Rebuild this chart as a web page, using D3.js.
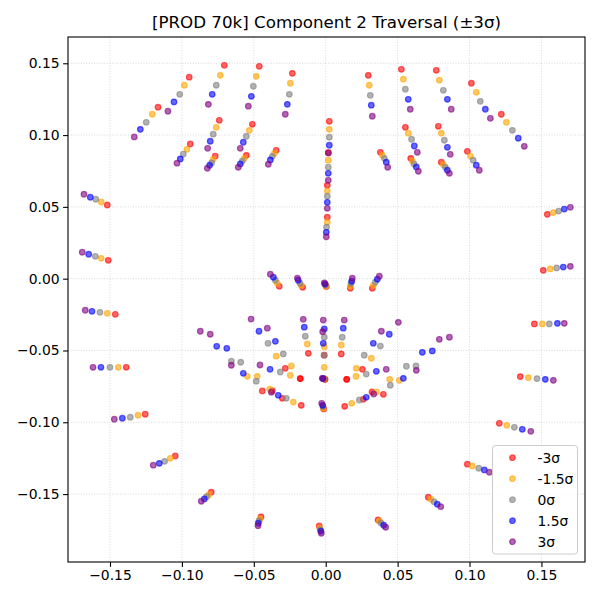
<!DOCTYPE html>
<html>
<head>
<meta charset="utf-8">
<script src="https://cdn.jsdelivr.net/npm/d3@7"></script>
<style>
  body { margin: 0; background: #fff; }
  text { font-family: "DejaVu Sans", sans-serif; }
</style>
</head>
<body>
<div id="chart"></div>
<script>
// 68 landmark points per traversal step (jaw, brows, nose, eyes, mouth)
const sigmaLabels = ["-3σ", "-1.5σ", "0σ", "1.5σ", "3σ"];
const sigmaColors = ["red", "orange", "gray", "blue", "purple"];

const xNeg3 = [
  -0.1519, -0.1512, -0.1463, -0.1387, -0.1255, -0.1046, -0.0796, -0.0450, -0.0045, 0.0364, 0.0713, 0.0985, 0.1207, 0.1353, 0.1451, 0.1513, 0.1541,
  -0.1166, -0.0949, -0.0705, -0.0462, -0.0232, 0.0296, 0.0526, 0.0769, 0.1013, 0.1221,
  0.0025, 0.0018, 0.0011, 0.0011, -0.0323, -0.0160, 0.0004, 0.0171, 0.0324,
  -0.0942, -0.0740, -0.0510, -0.0344, -0.0552, -0.0768, 0.0380, 0.0554, 0.0783, 0.0985, 0.0804, 0.0591,
  -0.0441, -0.0281, -0.0121, -0.0010, 0.0108, 0.0255, 0.0401, 0.0261, 0.0132, -0.0014, -0.0170, -0.0302,
  -0.0371, -0.0177, -0.0005, 0.0146, 0.0322, 0.0146, -0.0005, -0.0177
];
const yNeg3 = [
  0.0513, 0.0128, -0.0248, -0.0617, -0.0944, -0.1235, -0.1487, -0.1659, -0.1722, -0.1680, -0.1522, -0.1292, -0.1007, -0.0682, -0.0315, 0.0058, 0.0448,
  0.1194, 0.1403, 0.1486, 0.1479, 0.1430, 0.1416, 0.1458, 0.1451, 0.1361, 0.1145,
  0.1096, 0.0879, 0.0650, 0.0428, -0.0053, -0.0060, -0.0054, -0.0067, -0.0067,
  0.0938, 0.1103, 0.1075, 0.0894, 0.0859, 0.0854, 0.0880, 0.1054, 0.1061, 0.0887, 0.0811, 0.0838,
  -0.0782, -0.0624, -0.0520, -0.0533, -0.0524, -0.0631, -0.0805, -0.0840, -0.0889, -0.0907, -0.0882, -0.0833,
  -0.0780, -0.0696, -0.0701, -0.0701, -0.0789, -0.0701, -0.0701, -0.0696
];

const xNeg15 = [
  -0.1561, -0.1561, -0.1519, -0.1442, -0.1305, -0.1081, -0.0812, -0.0457, -0.0040, 0.0373, 0.0732, 0.1019, 0.1259, 0.1409, 0.1506, 0.1562, 0.1583,
  -0.1206, -0.0983, -0.0733, -0.0483, -0.0246, 0.0303, 0.0540, 0.0790, 0.1047, 0.1256,
  0.0025, 0.0018, 0.0011, 0.0011, -0.0337, -0.0170, 0.0002, 0.0171, 0.0331,
  -0.0965, -0.0761, -0.0531, -0.0357, -0.0566, -0.0782, 0.0394, 0.0574, 0.0804, 0.1006, 0.0818, 0.0602,
  -0.0545, -0.0344, -0.0128, -0.0010, 0.0108, 0.0317, 0.0512, 0.0352, 0.0181, -0.0017, -0.0225, -0.0389,
  -0.0476, -0.0239, -0.0010, 0.0213, 0.0445, 0.0211, -0.0010, -0.0246
];
const yNeg15 = [
  0.0534, 0.0142, -0.0241, -0.0617, -0.0951, -0.1251, -0.1504, -0.1673, -0.1738, -0.1689, -0.1536, -0.1304, -0.1021, -0.0689, -0.0315, 0.0068, 0.0460,
  0.1145, 0.1347, 0.1416, 0.1409, 0.1361, 0.1347, 0.1389, 0.1382, 0.1298, 0.1089,
  0.1040, 0.0825, 0.0611, 0.0393, -0.0032, -0.0046, -0.0051, -0.0053, -0.0046,
  0.0901, 0.1054, 0.1033, 0.0873, 0.0838, 0.0831, 0.0859, 0.1013, 0.1013, 0.0854, 0.0794, 0.0820,
  -0.0680, -0.0540, -0.0455, -0.0474, -0.0462, -0.0554, -0.0708, -0.0789, -0.0868, -0.0903, -0.0859, -0.0770,
  -0.0680, -0.0608, -0.0617, -0.0624, -0.0701, -0.0680, -0.0698, -0.0673
];

const xZero = [
  -0.1599, -0.1602, -0.1570, -0.1500, -0.1359, -0.1120, -0.0828, -0.0464, -0.0038, 0.0385, 0.0753, 0.1064, 0.1312, 0.1469, 0.1555, 0.1606, 0.1620,
  -0.1248, -0.1015, -0.0761, -0.0503, -0.0253, 0.0310, 0.0554, 0.0818, 0.1075, 0.1298,
  0.0025, 0.0018, 0.0011, 0.0006, -0.0350, -0.0179, -0.0001, 0.0176, 0.0345,
  -0.0990, -0.0782, -0.0552, -0.0371, -0.0580, -0.0793, 0.0408, 0.0597, 0.0825, 0.1026, 0.0832, 0.0614,
  -0.0656, -0.0401, -0.0142, -0.0010, 0.0115, 0.0380, 0.0628, 0.0449, 0.0234, -0.0019, -0.0274, -0.0483,
  -0.0591, -0.0295, -0.0012, 0.0268, 0.0561, 0.0282, -0.0015, -0.0316
];
const yZero = [
  0.0553, 0.0156, -0.0234, -0.0617, -0.0965, -0.1272, -0.1518, -0.1687, -0.1750, -0.1701, -0.1553, -0.1320, -0.1035, -0.0696, -0.0315, 0.0075, 0.0471,
  0.1089, 0.1284, 0.1347, 0.1340, 0.1284, 0.1277, 0.1319, 0.1312, 0.1235, 0.1033,
  0.0985, 0.0776, 0.0574, 0.0359, -0.0011, -0.0032, -0.0044, -0.0032, -0.0025,
  0.0868, 0.1006, 0.0992, 0.0852, 0.0820, 0.0808, 0.0838, 0.0971, 0.0964, 0.0825, 0.0776, 0.0799,
  -0.0575, -0.0450, -0.0401, -0.0408, -0.0408, -0.0469, -0.0608, -0.0742, -0.0845, -0.0890, -0.0833, -0.0714,
  -0.0582, -0.0524, -0.0533, -0.0533, -0.0610, -0.0664, -0.0697, -0.0650
];

const xPos15 = [
  -0.1637, -0.1648, -0.1625, -0.1563, -0.1414, -0.1157, -0.0844, -0.0469, -0.0033, 0.0403, 0.0776, 0.1103, 0.1367, 0.1527, 0.1611, 0.1652, 0.1659,
  -0.1289, -0.1055, -0.0789, -0.0517, -0.0267, 0.0317, 0.0574, 0.0846, 0.1110, 0.1339,
  0.0025, 0.0018, 0.0011, 0.0004, -0.0364, -0.0191, -0.0005, 0.0181, 0.0359,
  -0.1011, -0.0803, -0.0573, -0.0385, -0.0594, -0.0807, 0.0421, 0.0616, 0.0846, 0.1047, 0.0846, 0.0630,
  -0.0758, -0.0464, -0.0149, -0.0010, 0.0122, 0.0442, 0.0741, 0.0540, 0.0282, -0.0021, -0.0330, -0.0573,
  -0.0688, -0.0350, -0.0017, 0.0331, 0.0672, 0.0352, -0.0019, -0.0387
];
const yPos15 = [
  0.0567, 0.0170, -0.0227, -0.0617, -0.0972, -0.1286, -0.1534, -0.1703, -0.1759, -0.1717, -0.1571, -0.1332, -0.1049, -0.0701, -0.0311, 0.0081, 0.0485,
  0.1040, 0.1231, 0.1284, 0.1270, 0.1214, 0.1208, 0.1249, 0.1249, 0.1180, 0.0978,
  0.0929, 0.0734, 0.0532, 0.0323, 0.0010, -0.0011, -0.0037, -0.0018, -0.0004,
  0.0834, 0.0957, 0.0950, 0.0827, 0.0799, 0.0790, 0.0811, 0.0924, 0.0915, 0.0790, 0.0755, 0.0778,
  -0.0471, -0.0366, -0.0338, -0.0350, -0.0345, -0.0387, -0.0503, -0.0694, -0.0826, -0.0882, -0.0812, -0.0659,
  -0.0485, -0.0436, -0.0450, -0.0450, -0.0513, -0.0645, -0.0695, -0.0631
];

const xPos3 = [
  -0.1681, -0.1693, -0.1672, -0.1618, -0.1470, -0.1199, -0.0865, -0.0471, -0.0031, 0.0417, 0.0800, 0.1138, 0.1426, 0.1583, 0.1659, 0.1701, 0.1701,
  -0.1331, -0.1097, -0.0816, -0.0538, -0.0281, 0.0324, 0.0588, 0.0873, 0.1145, 0.1381,
  0.0019, 0.0018, 0.0011, 0.0004, -0.0385, -0.0197, -0.0010, 0.0185, 0.0373,
  -0.1034, -0.0821, -0.0594, -0.0399, -0.0608, -0.0823, 0.0431, 0.0637, 0.0866, 0.1068, 0.0860, 0.0644,
  -0.0872, -0.0519, -0.0156, -0.0017, 0.0129, 0.0505, 0.0860, 0.0630, 0.0334, -0.0028, -0.0378, -0.0656,
  -0.0803, -0.0406, -0.0021, 0.0387, 0.0790, 0.0421, -0.0024, -0.0457
];
const yPos3 = [
  0.0588, 0.0184, -0.0220, -0.0617, -0.0979, -0.1299, -0.1550, -0.1720, -0.1773, -0.1731, -0.1588, -0.1348, -0.1063, -0.0708, -0.0311, 0.0086, 0.0497,
  0.0987, 0.1166, 0.1214, 0.1201, 0.1145, 0.1131, 0.1180, 0.1180, 0.1117, 0.0922,
  0.0875, 0.0685, 0.0490, 0.0292, 0.0031, 0.0003, -0.0030, 0.0003, 0.0017,
  0.0804, 0.0908, 0.0908, 0.0797, 0.0776, 0.0769, 0.0776, 0.0880, 0.0866, 0.0755, 0.0734, 0.0748,
  -0.0366, -0.0281, -0.0283, -0.0288, -0.0288, -0.0304, -0.0408, -0.0638, -0.0803, -0.0868, -0.0791, -0.0603,
  -0.0387, -0.0345, -0.0369, -0.0366, -0.0422, -0.0631, -0.0694, -0.0601
];

const xTicks = [-0.15, -0.10, -0.05, 0.00, 0.05, 0.10, 0.15];
const yTicks = [-0.15, -0.10, -0.05, 0.00, 0.05, 0.10, 0.15];

const seriesX = [xNeg3, xNeg15, xZero, xPos15, xPos3];
const seriesY = [yNeg3, yNeg15, yZero, yPos15, yPos3];

// figure layout (matplotlib-like 600x600)
const W = 600, H = 600;
const plot = { left: 68, right: 585, top: 37, bottom: 562 };

const svg = d3.select("#chart").append("svg")
  .attr("width", W)
  .attr("height", H);

const x = d3.scaleLinear().domain([-0.1792, 0.1803]).range([plot.left, plot.right]);
const y = d3.scaleLinear().domain([-0.1973, 0.1683]).range([plot.bottom, plot.top]);

const fmt = d => d3.format(".2f")(d).replace("-", "\u2212");

// grid
const grid = svg.append("g").attr("class", "grid");
grid.selectAll("line.gx")
  .data(xTicks)
  .join("line")
  .attr("class", "gx")
  .attr("x1", d => x(d)).attr("x2", d => x(d))
  .attr("y1", plot.top).attr("y2", plot.bottom);
grid.selectAll("line.gy")
  .data(yTicks)
  .join("line")
  .attr("class", "gy")
  .attr("x1", plot.left).attr("x2", plot.right)
  .attr("y1", d => y(d)).attr("y2", d => y(d));
grid.selectAll("line")
  .attr("stroke", "#b0b0b0")
  .attr("stroke-opacity", 0.6)
  .attr("stroke-width", 0.8)
  .attr("stroke-dasharray", "1,1.6");

// points, one group per sigma step
const series = sigmaLabels.map((lab, i) =>
  seriesX[i].map((v, j) => ({ x: v, y: seriesY[i][j] })));

svg.append("g")
  .selectAll("g")
  .data(series)
  .join("g")
  .attr("fill", (d, i) => sigmaColors[i])
  .attr("stroke", (d, i) => sigmaColors[i])
  .selectAll("circle")
  .data(d => d)
  .join("circle")
  .attr("cx", d => x(d.x))
  .attr("cy", d => y(d.y))
  .attr("r", 2.8)
  .attr("fill-opacity", 0.6)
  .attr("stroke-opacity", 0.6)
  .attr("stroke-width", 1.2);

// axes
const xAxis = svg.append("g")
  .attr("transform", `translate(0,${plot.bottom})`)
  .call(d3.axisBottom(x).tickValues(xTicks).tickFormat(fmt).tickSize(4.9).tickPadding(3.5).tickSizeOuter(0));
const yAxis = svg.append("g")
  .attr("transform", `translate(${plot.left},0)`)
  .call(d3.axisLeft(y).tickValues(yTicks).tickFormat(fmt).tickSize(4.9).tickPadding(3.5).tickSizeOuter(0));

[xAxis, yAxis].forEach(a => {
  a.select(".domain").remove();
  a.selectAll(".tick line").attr("stroke", "#000").attr("stroke-width", 1.1);
  a.selectAll(".tick text")
    .attr("fill", "#000")
    .style("font-size", "13.9px")
    .style("font-family", "'DejaVu Sans', sans-serif");
});

// frame
svg.append("rect")
  .attr("x", plot.left).attr("y", plot.top)
  .attr("width", plot.right - plot.left)
  .attr("height", plot.bottom - plot.top)
  .attr("fill", "none")
  .attr("stroke", "#000")
  .attr("stroke-width", 1.1);

// title
svg.append("text")
  .attr("x", (plot.left + plot.right) / 2)
  .attr("y", 28)
  .attr("text-anchor", "middle")
  .style("font-size", "16.7px")
  .text("[PROD 70k] Component 2 Traversal (\u00b13\u03c3)");

// legend
const legend = svg.append("g").attr("transform", "translate(492.5,445.5)");
legend.append("rect")
  .attr("width", 85).attr("height", 108.5)
  .attr("rx", 3)
  .attr("fill", "#fff").attr("fill-opacity", 0.8)
  .attr("stroke", "#cccccc").attr("stroke-width", 1);

const rows = legend.selectAll("g.row")
  .data(sigmaLabels)
  .join("g")
  .attr("class", "row")
  .attr("transform", (d, i) => `translate(0,${12.2 + i * 21})`);
rows.append("circle")
  .attr("cx", 20).attr("r", 2.8)
  .attr("fill", (d, i) => sigmaColors[i])
  .attr("stroke", (d, i) => sigmaColors[i])
  .attr("fill-opacity", 0.6).attr("stroke-opacity", 0.6)
  .attr("stroke-width", 1.2);
rows.append("text")
  .attr("x", 45).attr("dy", "0.36em")
  .style("font-size", "13.9px")
  .text(d => d);
</script>
</body>
</html>
